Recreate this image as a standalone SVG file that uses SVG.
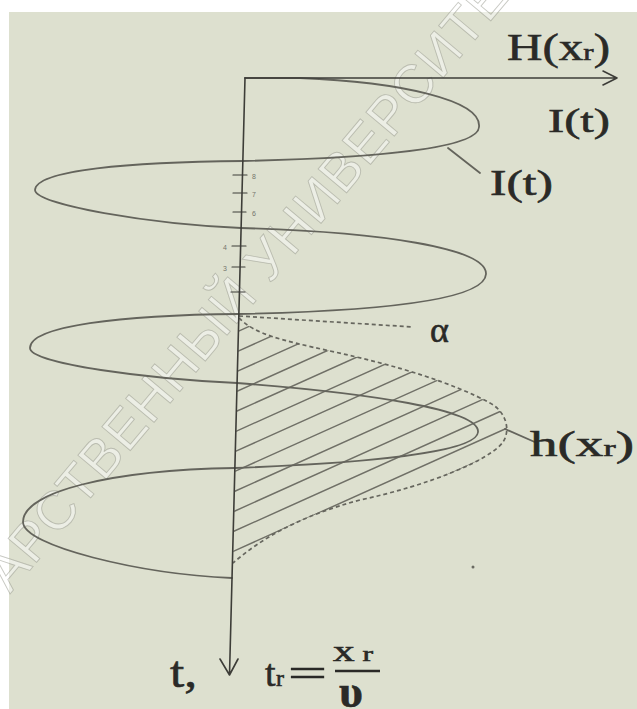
<svg xmlns="http://www.w3.org/2000/svg" width="637" height="709" viewBox="0 0 637 709">
<defs>
<style>
.bg{fill:#dde0cf}
.axis{fill:none;stroke:#3d3d38;stroke-width:1.6;stroke-linecap:round;stroke-linejoin:round}
.curve{fill:none;stroke:#64645c;stroke-width:1.8;stroke-linecap:round;stroke-linejoin:round}
.dash{fill:none;stroke:#66665e;stroke-width:1.7;stroke-dasharray:4 3}
.hatch{fill:none;stroke:#707067;stroke-width:1.5}
.lbl{font-family:"Liberation Serif","DejaVu Serif",serif;fill:#2a2a27;stroke:#2a2a27;stroke-width:0.6}
.tiny{font-family:"Liberation Sans",sans-serif;font-size:7px;fill:#75756d}
.wm{font-family:"Liberation Sans","DejaVu Sans",sans-serif;font-size:54px;letter-spacing:1px;fill:#ffffff;fill-opacity:0.45;stroke:#8f9286;stroke-opacity:0.5;stroke-width:0.9}
</style>
<clipPath id="hclip">
<path d="M239,318 C255,334 280,340 330,351 C400,366 455,384 490,403 C508,413 510,432 503,442 C490,460 430,485 360,500 C300,516 262,538 233,563 Z"/>
</clipPath>
</defs>
<rect width="637" height="709" fill="#ffffff"/>
<rect class="bg" x="9" y="12" width="628" height="697"/>
<g id="watermark" transform="translate(10,594) rotate(-50)">
<text class="wm" x="0" y="0">АРСТВЕННЫЙ УНИВЕРСИТЕТ И</text>
</g>
<g id="hatching" clip-path="url(#hclip)">
<path class="hatch" d="M230,335 L520,204.5 M230,354.8 L520,224.3 M230,374.6 L520,244.1 M230,394.4 L520,263.9 M230,414.2 L520,283.7 M230,434 L520,303.5 M230,453.8 L520,323.3 M230,473.6 L520,343.1 M230,493.4 L520,362.9 M230,513.2 L520,382.7 M230,533 L520,402.5 M230,552.8 L520,422.3 M230,572.6 L520,442.1"/>
</g>
<g id="connectors">
<path class="curve" d="M245,78 L300,78 C400,82 482,100 479,127 C478,148 380,158 243,161 C130,162 36,170 35,190 C36,205 150,224 241,228 C380,232 487,248 486,274 C485,300 380,311 239,314 C120,315 30,326 30,348 C30,364 150,379 237,383 C370,393 480,410 478,432 C477,452 370,463 235,468 C110,470 23,492 23,522 C23,546 140,574 232,578"/>
<path class="dash" d="M239,318 C255,334 280,340 330,351 C400,366 455,384 490,403 C508,413 510,432 503,442 C490,460 430,485 360,500 C300,516 262,538 233,563"/>
<path class="dash" d="M239,316 L413,327"/>
<path class="curve" d="M448,148 L480,173"/>
<path class="curve" d="M505,429 L537,443"/>
</g>
<g id="axes">
<path class="axis" d="M245,78 L617,78 M603,71 L617,78 L603,85"/>
<path class="axis" d="M245,78 L229.5,675 M220,659 L229.5,675 L238,659"/>
<path class="axis" style="stroke-width:1.2" d="M233,175 L247,175 M233,193 L247,193 M233,212 L246,212 M232,246 L246,246 M232,267 L245,267 M231,292 L245,292"/>
</g>
<g id="tick-labels">
<text class="tiny" x="252" y="179">8</text>
<text class="tiny" x="252" y="197">7</text>
<text class="tiny" x="252" y="216">6</text>
<text class="tiny" x="223" y="250">4</text>
<text class="tiny" x="223" y="271">3</text>
</g>
<g id="label-H">
<text class="lbl" x="507" y="60" font-size="38" textLength="103" lengthAdjust="spacingAndGlyphs">H(x<tspan font-size="24">r</tspan>)</text>
</g>
<g id="label-I1">
<text class="lbl" x="548" y="132" font-size="34" textLength="62" lengthAdjust="spacingAndGlyphs">I(t)</text>
</g>
<g id="label-I2">
<text class="lbl" x="490" y="195" font-size="35" textLength="63" lengthAdjust="spacingAndGlyphs">I(t)</text>
</g>
<g id="label-alpha">
<text class="lbl" x="430" y="342" font-size="36">α</text>
</g>
<g id="label-h">
<text class="lbl" x="530" y="456" font-size="36" textLength="104" lengthAdjust="spacingAndGlyphs">h(x<tspan font-size="24">r</tspan>)</text>
</g>
<g id="label-t">
<text class="lbl" x="170" y="687" font-size="44" textLength="27" lengthAdjust="spacingAndGlyphs">t,</text>
</g>
<g id="label-tr">
<text class="lbl" x="265" y="686" font-size="38">t</text>
<text class="lbl" x="276" y="686" font-size="24">r</text>
<text class="lbl" x="288" y="686" font-size="38" textLength="39" lengthAdjust="spacingAndGlyphs">=</text>
<text class="lbl" x="333" y="661" font-size="30" textLength="40" lengthAdjust="spacingAndGlyphs">x<tspan font-size="22"> r</tspan></text>
<path d="M335,671 L380,671" stroke="#2a2a27" stroke-width="2.6"/>
<text class="lbl" x="339" y="707" font-size="46" font-weight="bold">υ</text>
</g>
<circle cx="473" cy="567" r="1.5" fill="#6a6a62"/>
</svg>
